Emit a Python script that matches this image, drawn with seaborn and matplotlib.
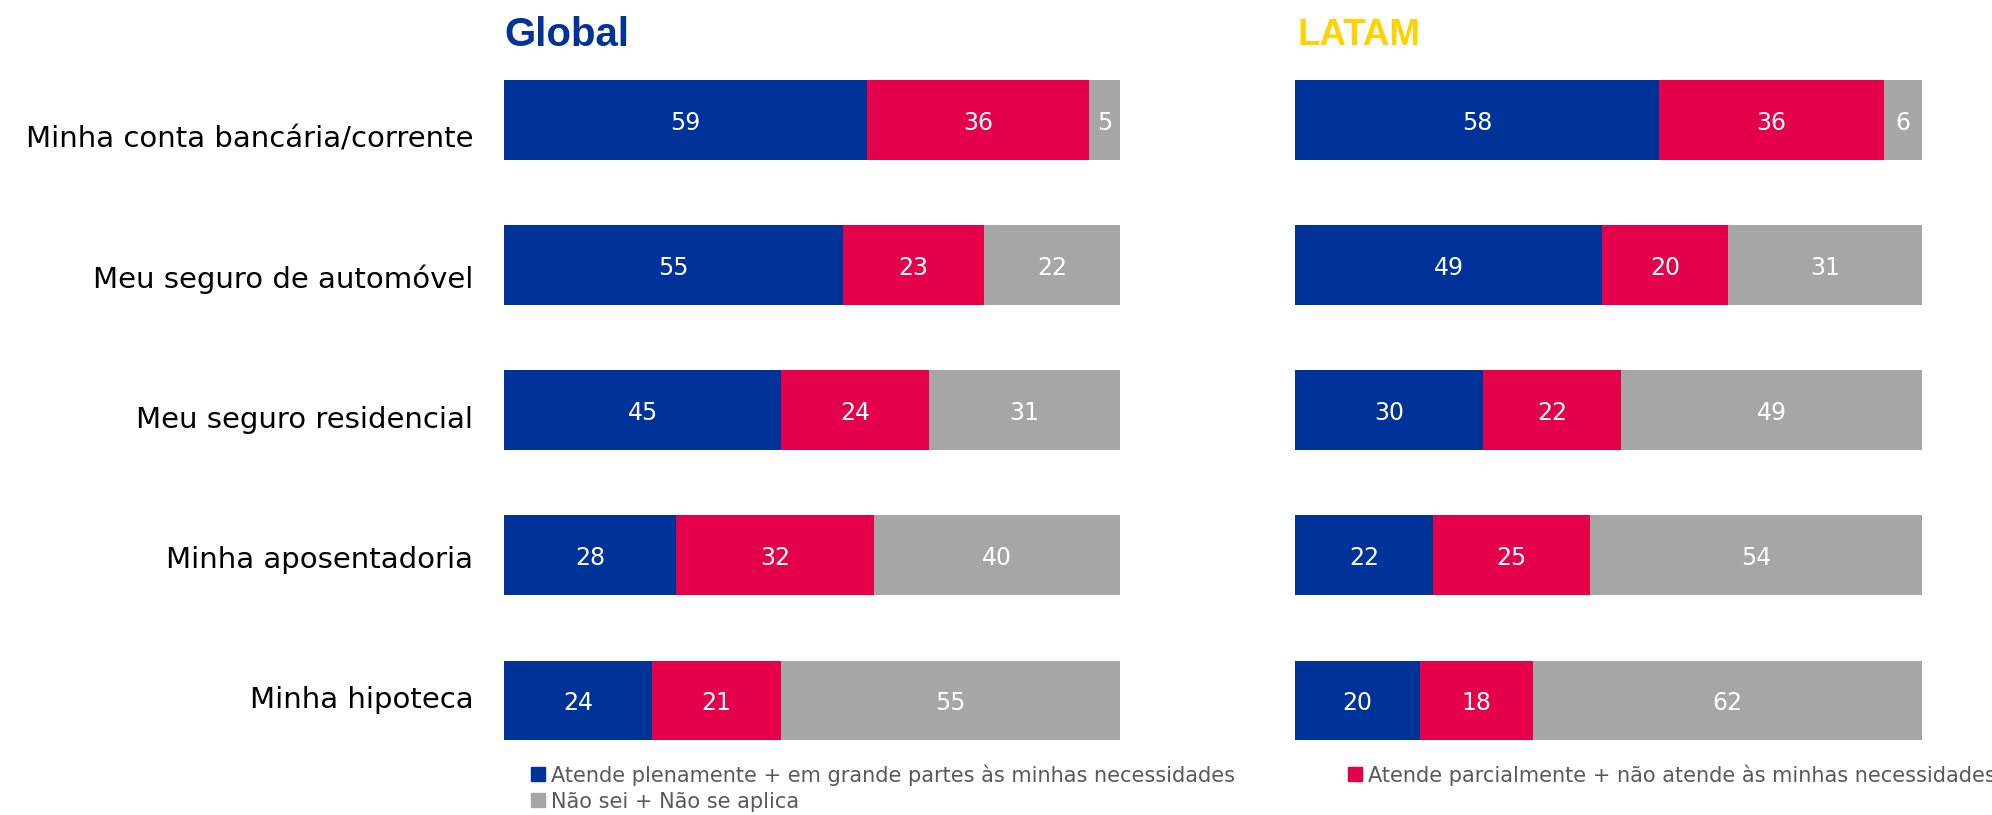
import matplotlib
matplotlib.use("Agg")
import matplotlib.pyplot as plt
from matplotlib.lines import Line2D
import matplotlib.transforms as mtransforms
import seaborn as sns
import numpy as np

categories = ["Minha conta bancária/corrente", "Meu seguro de automóvel",
              "Meu seguro residencial", "Minha aposentadoria", "Minha hipoteca"]
global_full = [59, 55, 45, 28, 24]
global_partial = [36, 23, 24, 32, 21]
global_dk = [5, 22, 31, 40, 55]
latam_full = [58, 49, 30, 22, 20]
latam_partial = [36, 20, 22, 25, 18]
latam_dk = [6, 31, 49, 54, 62]
series_names = ["Atende plenamente + em grande partes às minhas necessidades",
                "Atende parcialmente + não atende às minhas necessidades",
                "Não sei + Não se aplica"]
panel_titles = ["Global", "LATAM"]

BLUE = "#003399"
RED = "#E4004B"
GRAY = "#A6A6A6"
YELLOW = "#FFD200"

sns.set_theme(style="white")
plt.rcParams['font.family'] = ['DejaVu Sans']

W, H = 1992, 815
fig = plt.figure(figsize=(W / 100, H / 100), dpi=100)

bottom = 1 - 773 / H
height = (773 - 47.5) / H
ax_g = fig.add_axes([504 / W, bottom, 616 / W, height])
ax_l = fig.add_axes([1295 / W, bottom, 627 / W, height])


def draw(ax, full, partial, dk, show_labels):
    full = np.array(full, float)
    partial = np.array(partial, float)
    dk = np.array(dk, float)
    c1 = full
    c2 = full + partial
    c3 = full + partial + dk
    for cum, col in [(c3, GRAY), (c2, RED), (c1, BLUE)]:
        sns.barplot(x=cum, y=categories, orient="h", color=col, ax=ax,
                    width=0.55, linewidth=0, saturation=1)
    ax.set_xlim(0, 100)
    for i in range(len(categories)):
        segs = [(0, c1[i], full[i]), (c1[i], c2[i], partial[i]),
                (c2[i], min(c3[i], 100), dk[i])]
        for a, b, v in segs:
            ax.text((a + b) / 2, i, f"{int(v)}", ha="center", va="center_baseline",
                    color="white", fontsize=17)
    sns.despine(ax=ax, left=True, bottom=True)
    ax.set_xticks([])
    ax.set_xlabel("")
    ax.set_ylabel("")
    ax.tick_params(axis="y", length=0, pad=22, labelsize=21, labelcolor="black")
    if not show_labels:
        ax.set_yticklabels([])
    else:
        for i, lab in enumerate(ax.get_yticklabels()):
            off = mtransforms.ScaledTranslation(0, -(16.5 - 5 * i) / 100, fig.dpi_scale_trans)
            lab.set_transform(lab.get_transform() + off)


draw(ax_g, global_full, global_partial, global_dk, True)
draw(ax_l, latam_full, latam_partial, latam_dk, False)

fig.text(504 / W, 1 - 46 / H, panel_titles[0], color=BLUE, fontsize=29,
         fontweight="bold", family=["Liberation Sans", "DejaVu Sans"],
         ha="left", va="baseline")
fig.text(1297 / W, 1 - 45 / H, panel_titles[1], color=YELLOW, fontsize=26.5,
         fontweight="bold", family=["Liberation Sans Narrow", "Liberation Sans", "DejaVu Sans"],
         ha="left", va="baseline")

def handle(c):
    return Line2D([], [], marker="s", linestyle="none", markersize=10,
                  markerfacecolor=c, markeredgecolor=c)

leg_kw = dict(frameon=False, fontsize=15, handlelength=0.6, handletextpad=0.3,
              labelspacing=0.3, borderaxespad=0, borderpad=0, labelcolor="#595959")
leg1 = fig.legend([handle(BLUE), handle(GRAY)], [series_names[0], series_names[2]],
                  loc="upper left", bbox_to_anchor=(532 / W, 1 - 764 / H), **leg_kw)
leg2 = fig.legend([handle(RED)], [series_names[1]],
                  loc="upper left", bbox_to_anchor=(1349 / W, 1 - 764 / H), **leg_kw)

fig.savefig("out.png", dpi=100)
